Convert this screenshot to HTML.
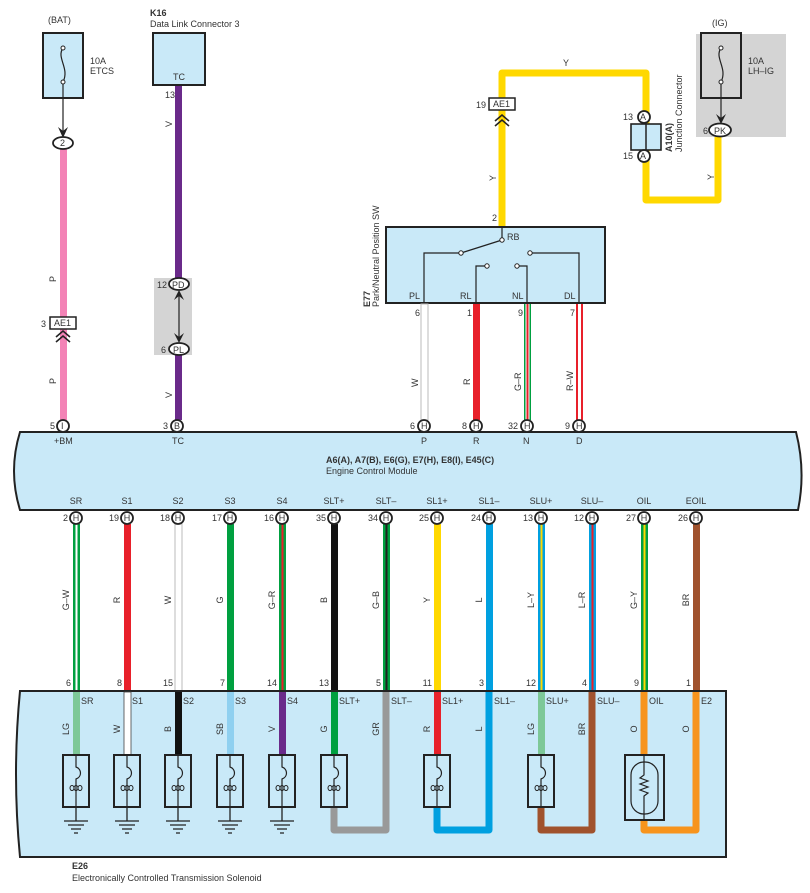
<!DOCTYPE html>
<html><head><meta charset="utf-8"><style>
html,body{margin:0;padding:0;background:#fff}
svg{display:block;font-family:"Liberation Sans",sans-serif}
text{font-size:9px;fill:#333}
.b{font-weight:bold}
</style></head><body>
<svg width="810" height="893" viewBox="0 0 810 893" xmlns="http://www.w3.org/2000/svg">
<defs>
<g id="coil"><rect x="-13" y="0" width="26" height="52" fill="none" stroke="#222" stroke-width="2"/><path d="M0,0 V12 C6,14 6,22 0,24 V52" fill="none" stroke="#222" stroke-width="1.2"/><g fill="none" stroke="#222" stroke-width="1"><ellipse cx="-4" cy="33" rx="2" ry="2.5"/><ellipse cx="0" cy="33" rx="2" ry="2.5"/><ellipse cx="4" cy="33" rx="2" ry="2.5"/></g></g>
<g id="gnd"><path d="M0,52 V66 M-12,66 H12 M-8,70 H8 M-5,74 H5 M-2,78 H2" stroke="#222" stroke-width="1.3" fill="none"/></g>
</defs>

<text x="48" y="23">(BAT)</text>
<rect x="43" y="33" width="40" height="65" fill="#c9e9f8" stroke="#222" stroke-width="2"/>
<path d="M63,48 C56,58 70,68 63,82" fill="none" stroke="#222" stroke-width="1.2"/>
<circle cx="63" cy="48" r="2" fill="#fff" stroke="#222"/><circle cx="63" cy="82" r="2" fill="#fff" stroke="#222"/>
<text x="90" y="64">10A</text><text x="90" y="74">ETCS</text>
<line x1="63" y1="84" x2="63" y2="132" stroke="#222" stroke-width="1.2"/>
<path d="M58,127 L63,138 L68,127 L63,131Z" fill="#222"/>
<rect x="60" y="148" width="7" height="272" fill="#f383b6"/>
<ellipse cx="63" cy="143" rx="10" ry="6" fill="#fff" stroke="#222" stroke-width="1.8"/><text x="60" y="146">2</text>
<rect x="50" y="317" width="26" height="12" fill="#fff" stroke="#222" stroke-width="1.5"/><text x="54" y="326">AE1</text><text x="41" y="327">3</text>
<path d="M56,337 L63,331 L70,337 M56,342 L63,336 L70,342" fill="none" stroke="#222" stroke-width="1.6"/>
<text transform="translate(56,282) rotate(-90)">P</text>
<text transform="translate(56,384) rotate(-90)">P</text>

<text x="150" y="16" class="b">K16</text><text x="150" y="27">Data Link Connector 3</text>
<rect x="153" y="33" width="52" height="52" fill="#c9e9f8" stroke="#222" stroke-width="2"/>
<text x="173" y="80">TC</text>
<rect x="175" y="86" width="7" height="334" fill="#6a2a8a"/>
<text x="165" y="98">13</text>
<text transform="translate(172,127) rotate(-90)">V</text>
<text transform="translate(172,398) rotate(-90)">V</text>
<rect x="154" y="278" width="38" height="77" fill="#d4d4d4"/>
<line x1="179" y1="293" x2="179" y2="340" stroke="#222" stroke-width="1.2"/>
<path d="M174,300 L179,290 L184,300 L179,296Z M174,333 L179,343 L184,333 L179,337Z" fill="#222"/>
<ellipse cx="179" cy="284" rx="10" ry="6" fill="#fff" stroke="#222" stroke-width="1.8"/><text x="172" y="288">PD</text><text x="157" y="288">12</text>
<ellipse cx="179" cy="349" rx="10" ry="6" fill="#fff" stroke="#222" stroke-width="1.8"/><text x="173" y="353">PL</text><text x="161" y="353">6</text>

<path d="M502,227 V73 H646 V200 H718 V135" fill="none" stroke="#ffd800" stroke-width="7" stroke-linejoin="round"/>
<text x="563" y="66">Y</text>
<text transform="translate(496,181) rotate(-90)">Y</text>
<text transform="translate(714,180) rotate(-90)">Y</text>
<rect x="489" y="98" width="26" height="12" fill="#fff" stroke="#222" stroke-width="1.5"/><text x="493" y="107">AE1</text><text x="476" y="108">19</text>
<path d="M495,126 L502,120 L509,126 M495,121 L502,115 L509,121" fill="none" stroke="#222" stroke-width="1.6"/>
<text x="492" y="221">2</text>
<rect x="631" y="124" width="30" height="26" fill="#c9e9f8" stroke="#222" stroke-width="1.6"/>
<line x1="646" y1="124" x2="646" y2="150" stroke="#222" stroke-width="1.5"/>
<circle cx="644" cy="117" r="6" fill="#fff" stroke="#222" stroke-width="1.8"/><text x="640" y="120">A</text><text x="623" y="120">13</text>
<circle cx="644" cy="156" r="6" fill="#fff" stroke="#222" stroke-width="1.8"/><text x="640" y="159">A</text><text x="623" y="159">15</text>
<text transform="translate(672,152) rotate(-90)" class="b">A10(A)</text>
<text transform="translate(682,152) rotate(-90)">Junction Connector</text>
<rect x="696" y="34" width="90" height="103" fill="#d4d4d4"/>
<text x="712" y="26">(IG)</text>
<rect x="701" y="33" width="40" height="65" fill="#d4d4d4" stroke="#222" stroke-width="2"/>
<path d="M721,48 C714,58 728,68 721,82" fill="none" stroke="#222" stroke-width="1.2"/>
<circle cx="721" cy="48" r="2" fill="#fff" stroke="#222"/><circle cx="721" cy="82" r="2" fill="#fff" stroke="#222"/>
<text x="748" y="64">10A</text><text x="748" y="74">LH–IG</text>
<line x1="721" y1="84" x2="721" y2="120" stroke="#222" stroke-width="1.2"/>
<path d="M716,114 L721,124 L726,114 L721,118Z" fill="#222"/>
<ellipse cx="720" cy="130" rx="11" ry="6.5" fill="#fff" stroke="#222" stroke-width="1.8"/><text x="714" y="134">PK</text><text x="703" y="134">6</text>

<rect x="386" y="227" width="219" height="76" fill="#c9e9f8" stroke="#222" stroke-width="2"/>
<text transform="translate(370,307) rotate(-90)" class="b">E77</text>
<text transform="translate(379,307) rotate(-90)">Park/Neutral Position SW</text>
<g fill="none" stroke="#222" stroke-width="1.2">
<path d="M502,227 V240 L461,253"/>
<path d="M424,303 V253 H461"/>
<path d="M476,303 V266 H486"/>
<path d="M527,303 V266 H518"/>
<path d="M579,303 V253 H530"/>
</g>
<g fill="#fff" stroke="#222" stroke-width="1"><circle cx="502" cy="240" r="2.2"/><circle cx="461" cy="253" r="2.2"/><circle cx="487" cy="266" r="2.2"/><circle cx="517" cy="266" r="2.2"/><circle cx="530" cy="253" r="2.2"/></g>
<text x="507" y="240">RB</text>
<text x="409" y="299">PL</text><text x="460" y="299">RL</text><text x="512" y="299">NL</text><text x="564" y="299">DL</text>
<rect x="421" y="304" width="7" height="116" fill="#fff" stroke="#bbb" stroke-width="1"/>
<rect x="473" y="304" width="7" height="116" fill="#e8202a"/>
<rect x="524" y="304" width="7" height="116" fill="#00a040"/><rect x="526.5" y="304" width="2" height="116" fill="#e8202a"/><rect x="525.5" y="304" width="1" height="116" fill="#fff"/><rect x="528.5" y="304" width="1" height="116" fill="#fff"/>
<rect x="576" y="304" width="7" height="116" fill="#e8202a"/><rect x="578" y="304" width="3" height="116" fill="#fff"/>
<text x="415" y="316">6</text><text x="467" y="316">1</text><text x="518" y="316">9</text><text x="570" y="316">7</text>
<text transform="translate(418,387) rotate(-90)">W</text>
<text transform="translate(470,385) rotate(-90)">R</text>
<text transform="translate(521,391) rotate(-90)">G–R</text>
<text transform="translate(573,391) rotate(-90)">R–W</text>

<path d="M20,432 H796 Q806,471 798,510 H20 Q8,471 20,432Z" fill="#c9e9f8" stroke="#222" stroke-width="2"/>
<g fill="#fff" stroke="#222" stroke-width="1.8">
<circle cx="63" cy="426" r="6"/><circle cx="177" cy="426" r="6"/><circle cx="424" cy="426" r="6"/><circle cx="476" cy="426" r="6"/><circle cx="527" cy="426" r="6"/><circle cx="579" cy="426" r="6"/>
</g>
<text x="61" y="429">I</text><text x="50" y="429">5</text>
<text x="174" y="429">B</text><text x="163" y="429">3</text>
<text x="421" y="429">H</text><text x="410" y="429">6</text>
<text x="473" y="429">H</text><text x="462" y="429">8</text>
<text x="524" y="429">H</text><text x="508" y="429">32</text>
<text x="576" y="429">H</text><text x="565" y="429">9</text>
<text x="54" y="444">+BM</text><text x="172" y="444">TC</text><text x="421" y="444">P</text><text x="473" y="444">R</text><text x="523" y="444">N</text><text x="576" y="444">D</text>
<text x="326" y="463" class="b">A6(A), A7(B), E6(G), E7(H), E8(I), E45(C)</text>
<text x="326" y="474">Engine Control Module</text>

<g text-anchor="middle">
<text x="76" y="504">SR</text><text x="127" y="504">S1</text><text x="178" y="504">S2</text><text x="230" y="504">S3</text><text x="282" y="504">S4</text><text x="334" y="504">SLT+</text><text x="386" y="504">SLT–</text><text x="437" y="504">SL1+</text><text x="489" y="504">SL1–</text><text x="541" y="504">SLU+</text><text x="592" y="504">SLU–</text><text x="644" y="504">OIL</text><text x="696" y="504">EOIL</text>
</g>
<rect x="73" y="524" width="7" height="168" fill="#00a040"/><rect x="75.5" y="524" width="2" height="168" fill="#fff"/>
<rect x="124" y="524" width="7" height="168" fill="#e8202a"/>
<rect x="175" y="524" width="7" height="168" fill="#fff" stroke="#bbb"/>
<rect x="227" y="524" width="7" height="168" fill="#00a040"/>
<rect x="279" y="524" width="7" height="168" fill="#00a040"/><rect x="281.5" y="524" width="2" height="168" fill="#e8202a"/>
<rect x="331" y="524" width="7" height="168" fill="#111"/>
<rect x="383" y="524" width="7" height="168" fill="#00a040"/><rect x="385.5" y="524" width="2" height="168" fill="#222"/>
<rect x="434" y="524" width="7" height="168" fill="#ffd800"/>
<rect x="486" y="524" width="7" height="168" fill="#00a0e0"/>
<rect x="538" y="524" width="7" height="168" fill="#00a0e0"/><rect x="540.5" y="524" width="2" height="168" fill="#ffd800"/>
<rect x="589" y="524" width="7" height="168" fill="#00a0e0"/><rect x="591.5" y="524" width="2" height="168" fill="#e8202a"/>
<rect x="641" y="524" width="7" height="168" fill="#00a040"/><rect x="643.5" y="524" width="2" height="168" fill="#ffd800"/>
<rect x="693" y="524" width="7" height="168" fill="#a0522d"/>
<g fill="#fff" stroke="#222" stroke-width="1.8">
<circle cx="76" cy="518" r="6"/><circle cx="127" cy="518" r="6"/><circle cx="178" cy="518" r="6"/><circle cx="230" cy="518" r="6"/><circle cx="282" cy="518" r="6"/><circle cx="334" cy="518" r="6"/><circle cx="386" cy="518" r="6"/><circle cx="437" cy="518" r="6"/><circle cx="489" cy="518" r="6"/><circle cx="541" cy="518" r="6"/><circle cx="592" cy="518" r="6"/><circle cx="644" cy="518" r="6"/><circle cx="696" cy="518" r="6"/>
</g>
<g text-anchor="middle">
<text x="76" y="521">H</text><text x="127" y="521">H</text><text x="178" y="521">H</text><text x="230" y="521">H</text><text x="282" y="521">H</text><text x="334" y="521">H</text><text x="386" y="521">H</text><text x="437" y="521">H</text><text x="489" y="521">H</text><text x="541" y="521">H</text><text x="592" y="521">H</text><text x="644" y="521">H</text><text x="696" y="521">H</text>
</g>
<g text-anchor="end">
<text x="68" y="521">2</text><text x="119" y="521">19</text><text x="170" y="521">18</text><text x="222" y="521">17</text><text x="274" y="521">16</text><text x="326" y="521">35</text><text x="378" y="521">34</text><text x="429" y="521">25</text><text x="481" y="521">24</text><text x="533" y="521">13</text><text x="584" y="521">12</text><text x="636" y="521">27</text><text x="688" y="521">26</text>
<text x="71" y="686">6</text><text x="122" y="686">8</text><text x="173" y="686">15</text><text x="225" y="686">7</text><text x="277" y="686">14</text><text x="329" y="686">13</text><text x="381" y="686">5</text><text x="432" y="686">11</text><text x="484" y="686">3</text><text x="536" y="686">12</text><text x="587" y="686">4</text><text x="639" y="686">9</text><text x="691" y="686">1</text>
</g>
<g text-anchor="middle">
<text transform="translate(69,600) rotate(-90)">G–W</text><text transform="translate(120,600) rotate(-90)">R</text><text transform="translate(171,600) rotate(-90)">W</text><text transform="translate(223,600) rotate(-90)">G</text><text transform="translate(275,600) rotate(-90)">G–R</text><text transform="translate(327,600) rotate(-90)">B</text><text transform="translate(379,600) rotate(-90)">G–B</text><text transform="translate(430,600) rotate(-90)">Y</text><text transform="translate(482,600) rotate(-90)">L</text><text transform="translate(534,600) rotate(-90)">L–Y</text><text transform="translate(585,600) rotate(-90)">L–R</text><text transform="translate(637,600) rotate(-90)">G–Y</text><text transform="translate(689,600) rotate(-90)">BR</text>
</g>

<path d="M20,691 H726 V857 H20 Q12,774 20,691Z" fill="#c9e9f8" stroke="#222" stroke-width="2"/>
<rect x="73" y="692" width="7" height="63" fill="#7dc898"/>
<rect x="124" y="692" width="7" height="63" fill="#fff" stroke="#444" stroke-width=".8"/>
<rect x="175" y="692" width="7" height="63" fill="#111"/>
<rect x="227" y="692" width="7" height="63" fill="#8fd0f0"/>
<rect x="279" y="692" width="7" height="63" fill="#6a2a8a"/>
<rect x="331" y="692" width="7" height="63" fill="#00a040"/>
<path d="M334,806 V830 H386 V692" fill="none" stroke="#999" stroke-width="7" stroke-linejoin="round"/>
<rect x="434" y="692" width="7" height="63" fill="#e8202a"/>
<path d="M437,806 V830 H489 V692" fill="none" stroke="#00a0e0" stroke-width="7" stroke-linejoin="round"/>
<rect x="538" y="692" width="7" height="63" fill="#7dc898"/>
<path d="M541,806 V830 H592 V692" fill="none" stroke="#a0522d" stroke-width="7" stroke-linejoin="round"/>
<path d="M644,692 V830 H696 V692" fill="none" stroke="#f7941d" stroke-width="7" stroke-linejoin="round"/>
<g transform="translate(76,755)"><use href="#coil"/><use href="#gnd"/></g>
<g transform="translate(127,755)"><use href="#coil"/><use href="#gnd"/></g>
<g transform="translate(178,755)"><use href="#coil"/><use href="#gnd"/></g>
<g transform="translate(230,755)"><use href="#coil"/><use href="#gnd"/></g>
<g transform="translate(282,755)"><use href="#coil"/><use href="#gnd"/></g>
<g transform="translate(334,755)"><use href="#coil"/></g>
<g transform="translate(437,755)"><use href="#coil"/></g>
<g transform="translate(541,755)"><use href="#coil"/></g>
<rect x="625" y="755" width="39" height="65" fill="#c9e9f8" stroke="#222" stroke-width="2"/>
<rect x="631" y="762" width="27" height="52" rx="13" fill="none" stroke="#222" stroke-width="1.2"/>
<path d="M644,755 V775 l-4,3 l8,3 l-8,3 l8,3 l-8,3 l8,3 l-4,3 V820" fill="none" stroke="#222" stroke-width="1.2"/>
<text x="81" y="704">SR</text><text x="132" y="704">S1</text><text x="183" y="704">S2</text><text x="235" y="704">S3</text><text x="287" y="704">S4</text><text x="339" y="704">SLT+</text><text x="391" y="704">SLT–</text><text x="442" y="704">SL1+</text><text x="494" y="704">SL1–</text><text x="546" y="704">SLU+</text><text x="597" y="704">SLU–</text><text x="649" y="704">OIL</text><text x="701" y="704">E2</text>
<g text-anchor="middle">
<text transform="translate(69,729) rotate(-90)">LG</text><text transform="translate(120,729) rotate(-90)">W</text><text transform="translate(171,729) rotate(-90)">B</text><text transform="translate(223,729) rotate(-90)">SB</text><text transform="translate(275,729) rotate(-90)">V</text><text transform="translate(327,729) rotate(-90)">G</text><text transform="translate(379,729) rotate(-90)">GR</text><text transform="translate(430,729) rotate(-90)">R</text><text transform="translate(482,729) rotate(-90)">L</text><text transform="translate(534,729) rotate(-90)">LG</text><text transform="translate(585,729) rotate(-90)">BR</text><text transform="translate(637,729) rotate(-90)">O</text><text transform="translate(689,729) rotate(-90)">O</text>
</g>
<text x="72" y="869" class="b">E26</text>
<text x="72" y="881">Electronically Controlled Transmission Solenoid</text>
</svg>
</body></html>
